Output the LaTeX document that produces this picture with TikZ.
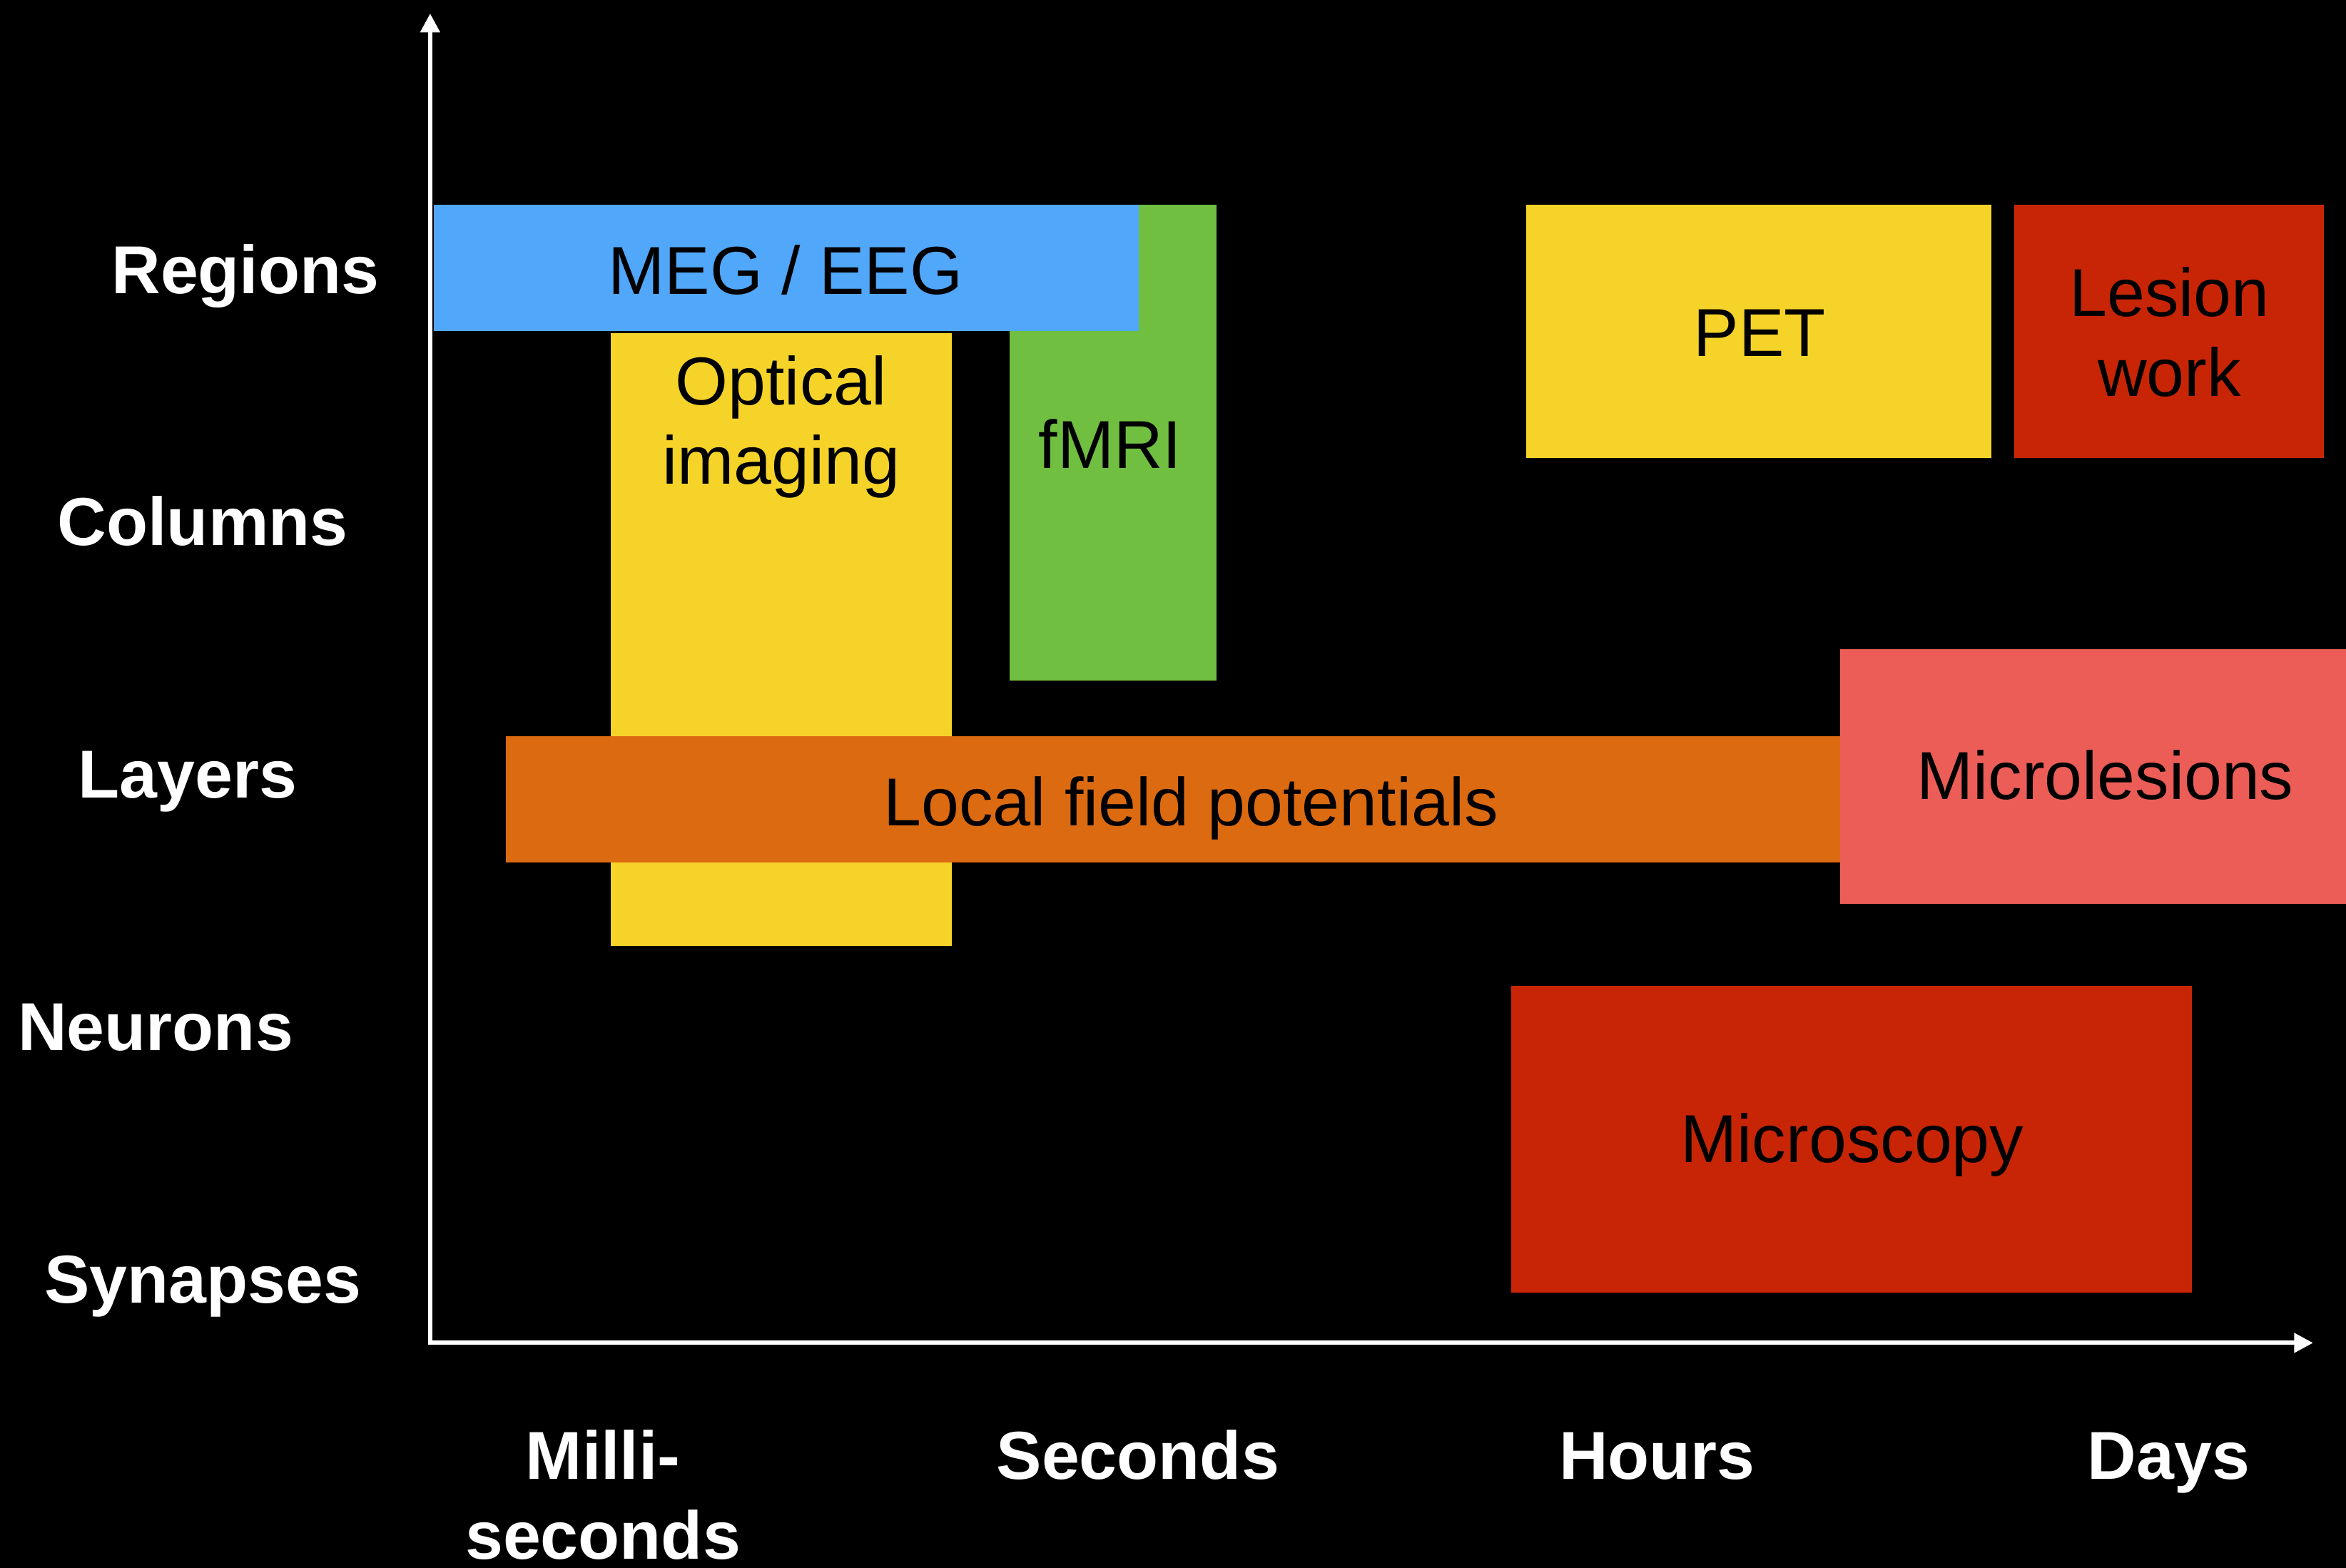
\documentclass[tikz,border=0pt]{standalone}
\usepackage{fontspec}
\setmainfont{Liberation Sans}
\usetikzlibrary{arrows.meta}

\definecolor{cblue}{RGB}{81,167,249}
\definecolor{cgreen}{RGB}{112,191,65}
\definecolor{cyellow}{RGB}{245,211,40}
\definecolor{corange}{RGB}{220,106,16}
\definecolor{csalmon}{RGB}{236,93,87}
\definecolor{cred}{RGB}{200,37,6}

\tikzset{
  blk/.style={rectangle, draw=none, inner sep=0pt, outer sep=0pt, anchor=north west},
  blktext/.style={anchor=base, inner sep=0pt, text=black, align=center,
    font=\fontsize{12.9pt}{15.1pt}\selectfont},
  axlabel/.style={anchor=base, inner sep=0pt, text=white, align=center,
    font=\fontsize{12.9pt}{15.1pt}\selectfont\bfseries},
  axisline/.style={draw=white, line width=0.82pt,
    {Triangle[width=3.6pt,length=3.6pt]}-{Triangle[width=3.6pt,length=3.6pt]}}
}

\begin{document}
\begin{tikzpicture}
  % black canvas
  \fill[black] (0,0) rectangle (15.68,-10.48);
  \useasboundingbox (0,0) rectangle (15.68,-10.48);

  % method blocks (back to front)
  \node[blk, fill=cgreen,  minimum width=1.38cm, minimum height=3.18cm] (fmri)  at (6.75,-1.37) {};
  \node[blk, fill=cblue,   minimum width=4.71cm, minimum height=0.845cm] (meg)  at (2.90,-1.37) {};
  \node[blk, fill=cyellow, minimum width=2.28cm, minimum height=4.10cm] (optic) at (4.08,-2.225) {};
  \node[blk, fill=corange, minimum width=8.92cm, minimum height=0.845cm] (lfp)  at (3.38,-4.92) {};
  \node[blk, fill=csalmon, minimum width=3.38cm, minimum height=1.70cm] (mles) at (12.30,-4.34) {};
  \node[blk, fill=cyellow, minimum width=3.11cm, minimum height=1.69cm] (pet)   at (10.20,-1.37) {};
  \node[blk, fill=cred,    minimum width=2.07cm, minimum height=1.69cm] (lesion) at (13.46,-1.37) {};
  \node[blk, fill=cred,    minimum width=4.55cm, minimum height=2.05cm] (mscope) at (10.10,-6.59) {};

  % block labels (two-line labels sit on the baseline of their last line)
  \node[blktext] (tmeg)    at (5.25,-1.966) {MEG / EEG};
  \node[blktext] (toptic)  at (5.22,-3.235) {Optical\\imaging};
  \node[blktext] (tfmri)   at (7.42,-3.133) {fMRI};
  \node[blktext] (tlfp)    at (7.96,-5.52)  {Local field potentials};
  \node[blktext] (tmles)   at (14.07,-5.344) {Microlesions};
  \node[blktext] (tpet)    at (11.76,-2.38) {PET};
  \node[blktext] (tlesion) at (14.50,-2.647) {Lesion\\work};
  \node[blktext] (tmscope) at (12.38,-7.77) {Microscopy};

  % axes
  \coordinate (origin) at (2.875,-8.977);
  \coordinate (ytip)   at (2.875,-0.09);
  \coordinate (xtip)   at (15.46,-8.977);
  \draw[axisline] (ytip) -- (origin) -- (xtip);

  % spatial scale
  \node[axlabel] (lreg) at (1.64,-1.96)   {Regions};
  \node[axlabel] (lcol) at (1.355,-3.648) {Columns};
  \node[axlabel] (llay) at (1.255,-5.335) {Layers};
  \node[axlabel] (lneu) at (1.04,-7.022)  {Neurons};
  \node[axlabel] (lsyn) at (1.355,-8.71)  {Synapses};

  % temporal scale
  \node[axlabel] (tms)  at (4.03,-10.42)  {Milli-\\seconds};
  \node[axlabel] (tsec) at (7.605,-9.886) {Seconds};
  \node[axlabel] (thr)  at (11.075,-9.886) {Hours};
  \node[axlabel] (tday) at (14.495,-9.886) {Days};
\end{tikzpicture}
\end{document}
